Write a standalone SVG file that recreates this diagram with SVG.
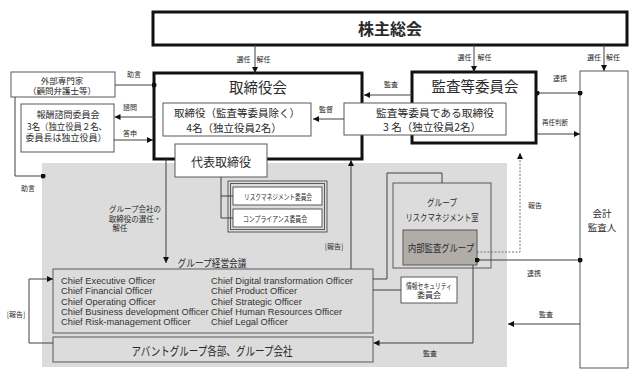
<svg xmlns="http://www.w3.org/2000/svg" width="640" height="390" viewBox="0 0 640 390">
<style>
.thick{fill:#fff;stroke:#111;stroke-width:3}
.box{fill:#fff;stroke:#595959;stroke-width:1}
.gbox{fill:#dcdcdc;stroke:#595959;stroke-width:1}
.ln{fill:none;stroke:#404040;stroke-width:1}
.dash{fill:none;stroke:#707070;stroke-width:1;stroke-dasharray:2 1.5}
text{font-family:"Noto Sans CJK JP","Noto Sans",sans-serif;fill:#2a2a2a;dominant-baseline:central;text-anchor:middle}
.lb{font-size:7px}
.en{font-family:"Liberation Sans",Arial,sans-serif;font-size:9.3px;text-anchor:start;fill:#333}
</style>
<defs>
<marker id="ah" viewBox="0 0 6 6" refX="6" refY="3" markerWidth="6" markerHeight="6" orient="auto" markerUnits="userSpaceOnUse"><path d="M0,0L6,3L0,6z" fill="#111"/></marker>
<marker id="dot" viewBox="0 0 6 6" refX="3" refY="3" markerWidth="5" markerHeight="5" markerUnits="userSpaceOnUse"><circle cx="3" cy="3" r="3" fill="#111"/></marker>
</defs>
<rect id="group-area" x="42" y="163" width="465" height="204" fill="#dcdcdc"/>

<g id="shareholders"><rect class="thick" x="153" y="12" width="474" height="33"/><text x="390" y="28" style="font-size:16px;font-weight:bold">株主総会</text></g>

<g id="board"><rect class="thick" x="154" y="73" width="208" height="86"/><text x="258" y="86" style="font-size:14.5px">取締役会</text>
<rect class="box" x="163" y="103" width="148" height="33"/><text x="237" y="112" style="font-size:10.5px" textLength="126" lengthAdjust="spacingAndGlyphs">取締役（監査等委員除く）</text><text x="234" y="127" style="font-size:10.5px">4名（独立役員2名）</text></g>

<g id="representative"><rect class="box" x="175" y="144" width="92" height="33"/><text x="221" y="161" style="font-size:12px">代表取締役</text></g>

<g id="audit-committee"><rect class="thick" x="412" y="72" width="124" height="71"/><text x="475" y="85" style="font-size:14.5px">監査等委員会</text>
<rect class="box" x="344" y="103" width="162" height="32"/><text x="435" y="112" style="font-size:10.5px" textLength="118" lengthAdjust="spacingAndGlyphs">監査等委員である取締役</text><text x="432" y="126.5" style="font-size:10.5px">3 名（独立役員2名）</text></g>

<g id="accounting-auditor"><rect class="box" x="580" y="71" width="48" height="297"/><text x="602" y="213" style="font-size:9.5px">会計</text><text x="602" y="227" style="font-size:9.5px">監査人</text></g>

<g id="external-experts"><rect class="box" x="11" y="72" width="104" height="25"/><text x="62" y="79.5" style="font-size:8.5px">外部専門家</text><text x="62" y="90" style="font-size:8.5px">（顧問弁護士等）</text></g>

<g id="compensation-committee"><rect class="box" x="21" y="104" width="93" height="48"/><text x="68" y="114.5" style="font-size:9px">報酬諮問委員会</text><text x="67" y="126" style="font-size:9px" textLength="80" lengthAdjust="spacingAndGlyphs">3名（独立役員２名、</text><text x="66" y="137.5" style="font-size:9px">委員長は独立役員）</text></g>

<g id="committees"><rect class="gbox" x="228" y="181" width="99" height="51"/><rect class="gbox" x="230.5" y="183.5" width="94" height="46"/>
<rect class="box" x="233" y="187" width="89" height="18"/><text x="278" y="196" style="font-size:7.5px" textLength="68" lengthAdjust="spacingAndGlyphs">リスクマネジメント委員会</text>
<rect class="box" x="233" y="209" width="89" height="18"/><text x="275" y="218" style="font-size:7.5px" textLength="64" lengthAdjust="spacingAndGlyphs">コンプライアンス委員会</text></g>

<g id="group-risk-office"><path class="ln" d="M387,279V173H442V183"/><rect class="gbox" x="393" y="183" width="98" height="85"/><text x="442" y="202" style="font-size:9.5px" textLength="30" lengthAdjust="spacingAndGlyphs">グループ</text><text x="442" y="216.5" style="font-size:9.5px" textLength="73" lengthAdjust="spacingAndGlyphs">リスクマネジメント室</text></g>

<g id="internal-audit"><rect x="403" y="230" width="74" height="35" fill="#b0aca8" stroke="#595959"/><text x="441" y="247" style="font-size:10px" textLength="66" lengthAdjust="spacingAndGlyphs">内部監査グループ</text></g>

<g id="infosec"><rect class="box" x="401" y="277" width="56" height="26"/><text x="429" y="285" style="font-size:8px" textLength="46" lengthAdjust="spacingAndGlyphs">情報セキュリティ</text><text x="429" y="294.5" style="font-size:8px">委員会</text></g>

<g id="management-meeting"><rect class="gbox" x="53" y="269" width="320" height="64"/>
<text class="en" x="61" y="281">Chief Executive Officer</text><text class="en" x="61" y="291.3">Chief Financial Officer</text><text class="en" x="61" y="301.6">Chief Operating Officer</text><text class="en" x="61" y="311.9">Chief Business development Officer</text><text class="en" x="61" y="322.2">Chief Risk-management Officer</text>
<text class="en" x="211" y="281">Chief Digital transformation Officer</text><text class="en" x="211" y="291.3">Chief Product Officer</text><text class="en" x="211" y="301.6">Chief Strategic Officer</text><text class="en" x="211" y="311.9">Chief Human Resources Officer</text><text class="en" x="211" y="322.2">Chief Legal Officer</text></g>

<g id="group-companies"><rect class="gbox" x="53" y="337" width="320" height="25"/><text x="212" y="350" style="font-size:12px" textLength="161" lengthAdjust="spacingAndGlyphs">アバントグループ各部、グループ会社</text></g>

<g id="connectors">
<path class="ln" d="M255,45V73" marker-end="url(#ah)"/><text class="lb" x="243.5" y="59">選任</text><text class="lb" x="263.5" y="59">解任</text>
<path class="ln" d="M474,45V72" marker-end="url(#ah)"/><text class="lb" x="464.5" y="57">選任</text><text class="lb" x="484.5" y="57">解任</text>
<path class="ln" d="M604,45V71" marker-end="url(#ah)"/><text class="lb" x="594" y="57">選任</text><text class="lb" x="613" y="57">解任</text>
<path class="ln" d="M115,85H154" marker-end="url(#dot)"/><text class="lb" x="134" y="74">助言</text>
<path class="ln" d="M15,97V176H43" marker-end="url(#dot)"/><text class="lb" x="28" y="188">助言</text>
<path class="ln" d="M154,117H114.5" marker-end="url(#ah)"/><text class="lb" x="130" y="107">諮問</text>
<path class="ln" d="M114,140H153" marker-end="url(#ah)"/><text class="lb" x="130" y="133">答申</text>
<path class="ln" d="M412,95H364" marker-end="url(#ah)"/><text class="lb" x="391" y="84">監査</text>
<path class="ln" d="M344,119H313" marker-end="url(#ah)"/><text class="lb" x="326" y="109">監督</text>
<path class="ln" d="M537,93H580" marker-start="url(#dot)" marker-end="url(#dot)"/><text class="lb" x="560" y="78">連携</text>
<path class="ln" d="M537,134H580" marker-end="url(#ah)"/><text class="lb" x="555" y="122" style="font-size:6.5px">再任判断</text>
<path class="dash" d="M477,252H520V153" marker-end="url(#ah)"/><text class="lb" x="535" y="205">報告</text>
<path class="ln" d="M477,260H580" marker-start="url(#dot)" marker-end="url(#dot)"/><text class="lb" x="534" y="273">連携</text>
<path class="ln" d="M580,324H508" marker-end="url(#ah)"/><text class="lb" x="546" y="314">監査</text>
<path class="ln" d="M473,265V343H373.5" marker-end="url(#ah)"/><text class="lb" x="430" y="353">監査</text>
<path class="ln" d="M166,159V263" marker-end="url(#ah)"/><text x="212" y="262" style="font-size:10px" textLength="69" lengthAdjust="spacingAndGlyphs">グループ経営会議</text>
<text class="lb" x="135" y="208.5" style="font-size:7.5px">グループ会社の</text><text class="lb" x="135" y="218" style="font-size:7.5px">取締役の選任・</text><text class="lb" x="120" y="227.5" style="font-size:7.5px">解任</text>
<path class="ln" d="M351,269V160" marker-end="url(#ah)"/><text class="lb" x="334" y="246">[報告]</text>
<path class="ln" d="M221,177V218H233M221,196H233"/>
<path class="ln" d="M373,279H387"/>
<path class="ln" d="M373,290H401"/>
<path class="ln" d="M53,343H29V279H53" marker-end="url(#ah)"/><text class="lb" x="16" y="314">[報告]</text>
</g>
</svg>
